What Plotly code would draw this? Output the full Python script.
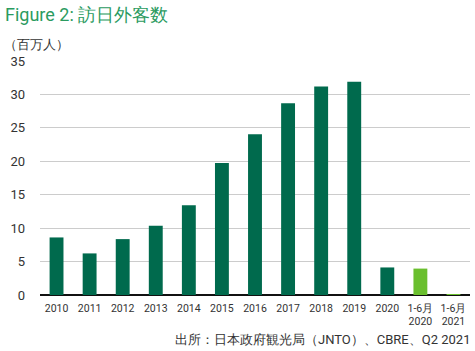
import plotly.graph_objects as go

categories = ["2010", "2011", "2012", "2013", "2014", "2015", "2016", "2017", "2018", "2019", "2020", "1-6月<br>2020", "1-6月<br>2021"]
values = [8.61, 6.22, 8.36, 10.36, 13.41, 19.74, 24.04, 28.69, 31.19, 31.88, 4.12, 3.95, 0.05]
colors = ["#006a4d"] * 11 + ["#6abf2e", "#6abf2e"]
yticks = [0, 5, 10, 15, 20, 25, 30, 35]

font = "Liberation Sans Narrow, Roboto, Arial Narrow, sans-serif"

W, H = 475, 351
l, r, t, b = 40, 5, 61, 56

fig = go.Figure(go.Bar(x=categories, y=values, marker_color=colors, marker_line_width=0, width=0.42))

fig.update_layout(
    width=W, height=H,
    margin=dict(l=l, r=r, t=t, b=b),
    plot_bgcolor="white", paper_bgcolor="white",
    showlegend=False,
    font=dict(family=font, size=12, color="#333333"),
    xaxis=dict(showgrid=False, showline=False, ticks="", tickfont=dict(size=10.5, color="#333333"),
               tickangle=0, zeroline=False, ticklabelstandoff=5),
    yaxis=dict(range=[0, 35], tickvals=yticks, showgrid=True, gridcolor="#cccccc", gridwidth=1.2,
               zeroline=True, zerolinecolor="#111111", zerolinewidth=2,
               tickfont=dict(size=13, color="#333333"), ticklabelstandoff=14, showline=False),
)

pw, ph = W - l - r, H - t - b
def px(x): return (x - l) / pw
def py(y): return (H - b - y) / ph

fig.add_annotation(text="Figure 2: 訪日外客数", x=px(3), y=py(2), xref="paper", yref="paper", showarrow=False,
                   xanchor="left", yanchor="top", font=dict(size=18, color="#2b9b5f", family=font))
fig.add_annotation(text="（百万人）", x=px(2), y=py(44), xref="paper", yref="paper", showarrow=False,
                   xanchor="left", yanchor="middle", font=dict(size=12.5, color="#333333", family=font))
fig.add_annotation(text="出所：日本政府観光局（JNTO）、CBRE、Q2 2021", x=px(472), y=py(339), xref="paper", yref="paper",
                   showarrow=False, xanchor="right", yanchor="middle", font=dict(size=13, color="#333333", family=font))

fig.write_html("out.html")
